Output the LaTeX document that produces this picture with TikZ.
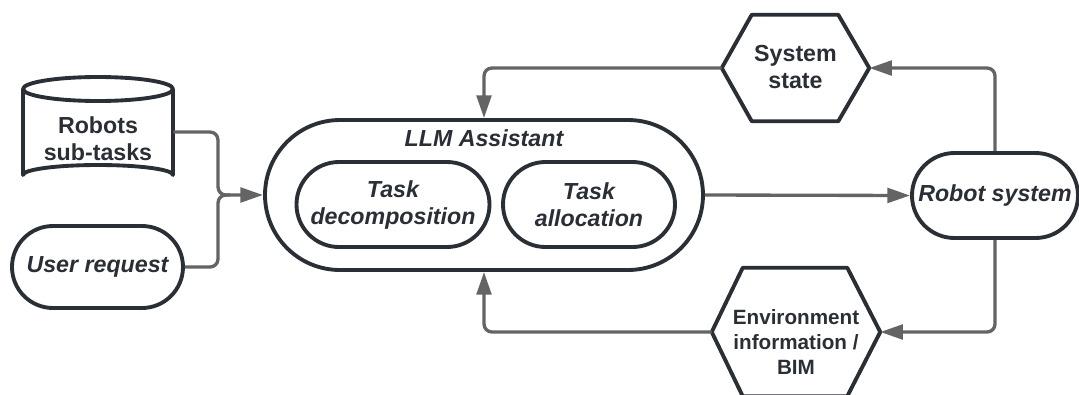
\documentclass[tikz,border=0pt]{standalone}
\usepackage{fontspec}
\setmainfont{Liberation Sans}
\usetikzlibrary{arrows.meta,shapes.misc,calc}
\definecolor{ink}{HTML}{2A2E35}
\definecolor{wire}{HTML}{646464}
\tikzset{
  lbl/.style={text=ink, font=\fontsize{17.4}{20.25}\selectfont\bfseries, align=center, inner sep=0pt},
  ilbl/.style={lbl, font=\fontsize{17.4}{20.25}\selectfont\bfseries\itshape},
  pill/.style={rounded rectangle, draw=ink, line width=2.9pt, fill=white, inner sep=0pt,
    text=ink, font=\fontsize{17.4}{20.25}\selectfont\bfseries\itshape, align=center},
  frame/.style={rectangle, draw=none, inner sep=0pt},
  outline/.style={draw=ink, line width=2.9pt, line join=round},
  wireline/.style={draw=wire, line width=2.5pt, rounded corners=6pt},
  flow/.style={wireline, -{Triangle[length=17pt,width=11pt]}},
}
\begin{document}
\begin{tikzpicture}[x=0.75pt,y=-0.75pt]
\useasboundingbox (0,0) rectangle (1079,394);
\clip (0,0) rectangle (1079,394);

% inputs on the left
\node[frame, minimum width=112.5pt, minimum height=81pt] (cyl) at (98,132) {};
\draw[outline, fill=white]
  (23,89) -- (23,175) arc[start angle=180, end angle=360, x radius=75, y radius=10]
  -- (173,89) arc[start angle=0, end angle=180, x radius=75, y radius=12] -- cycle;
\draw[outline] (23,89) arc[start angle=180, end angle=360, x radius=75, y radius=12];
\node[lbl] at (98,139) {Robots\\sub-tasks};

\node[pill, minimum width=128.25pt, minimum height=61.5pt] (user) at (97.5,267) {User request};

% assistant with its two stages
\node[pill, minimum width=328.5pt, minimum height=112.5pt] (llm) at (484,195) {};
\node[ilbl] at (484,138) {LLM Assistant};
\node[pill, minimum width=144.75pt, minimum height=63.75pt] (dec) at (393,204.5) {Task\\decomposition};
\node[pill, minimum width=129pt, minimum height=63.75pt] (alloc) at (589,204.5) {Task\\allocation};

% robot side
\node[pill, minimum width=124.5pt, minimum height=63.75pt] (robot) at (995,195.5) {Robot system};

% feedback hexagons
\node[frame, minimum width=110.25pt, minimum height=79.5pt] (state) at (795.5,68) {};
\draw[outline, fill=white] (state.west) -- ($(state.north west)+(30,0)$) -- ($(state.north east)+(-31,0)$)
  -- (state.east) -- ($(state.south east)+(-31,0)$) -- ($(state.south west)+(30,0)$) -- cycle;
\node[lbl] at (795.5,67) {System\\state};

\node[frame, minimum width=126pt, minimum height=96pt] (env) at (796,332) {};
\draw[outline, fill=white] (env.west) -- ($(env.north west)+(31,0)$) -- ($(env.north east)+(-33,0)$)
  -- (env.east) -- ($(env.south east)+(-33,0)$) -- ($(env.south west)+(31,0)$) -- cycle;
\node[lbl, font=\fontsize{15.5}{18.75}\selectfont\bfseries] at (796,342) {Environment\\information /\\BIM};

% connectors
\coordinate (join) at (218,195);
\draw[flow] (cyl.east) -| (join) -- (llm.west);
\draw[wireline] (user.east) -| (join) -- ++(12,0);
\draw[flow] (llm.east) -- (robot.west);
\draw[flow] (robot.north) |- (state.east);
\draw[flow] (state.west) -| (llm.north);
\draw[flow] (robot.south) |- (env.east);
\draw[flow] (env.west) -| (llm.south);
\end{tikzpicture}
\end{document}
